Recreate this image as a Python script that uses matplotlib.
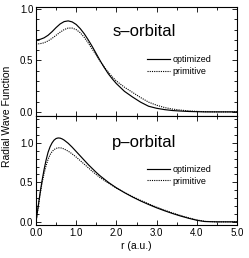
import matplotlib.pyplot as plt
from matplotlib.ticker import MultipleLocator, FormatStrFormatter

plt.rcParams["font.family"] = ["Liberation Sans", "DejaVu Sans"]

# s-orbital radial wave function
r_s = [0.0, 0.1, 0.2, 0.3, 0.4, 0.5, 0.6, 0.7, 0.8, 0.9, 1.0, 1.1, 1.2, 1.3,
       1.4, 1.5, 1.6, 1.7, 1.8, 1.9, 2.0, 2.2, 2.4, 2.6, 2.8, 3.0, 3.2, 3.4,
       3.6, 3.8, 4.0, 4.2, 4.5, 5.0]
s_optimized = [0.700, 0.705, 0.720, 0.745, 0.780, 0.820, 0.855, 0.878, 0.885,
               0.875, 0.850, 0.810, 0.760, 0.700, 0.635, 0.565, 0.495, 0.430,
               0.370, 0.320, 0.275, 0.200, 0.145, 0.095, 0.055, 0.035, 0.022,
               0.013, 0.008, 0.004, 0.002, 0.0, 0.0, 0.0]
s_primitive = [0.660, 0.663, 0.672, 0.690, 0.715, 0.745, 0.775, 0.800, 0.815,
               0.815, 0.800, 0.770, 0.725, 0.670, 0.610, 0.550, 0.490, 0.435,
               0.385, 0.340, 0.300, 0.240, 0.190, 0.140, 0.095, 0.065, 0.042,
               0.027, 0.017, 0.010, 0.005, 0.002, 0.0, 0.0]

# p-orbital radial wave function
r_p = [0.0, 0.05, 0.1, 0.15, 0.2, 0.25, 0.3, 0.35, 0.4, 0.45, 0.5, 0.55, 0.6,
       0.65, 0.7, 0.8, 0.9, 1.0, 1.1, 1.2, 1.3, 1.4, 1.5, 1.6, 1.8, 2.0, 2.2,
       2.4, 2.6, 2.8, 3.0, 3.2, 3.4, 3.6, 3.8, 4.0, 4.2, 4.5, 5.0]
p_optimized = [0.0, 0.18, 0.36, 0.52, 0.66, 0.78, 0.88, 0.95, 1.00, 1.035,
               1.055, 1.062, 1.060, 1.050, 1.035, 0.995, 0.945, 0.890, 0.835,
               0.780, 0.725, 0.675, 0.625, 0.580, 0.500, 0.430, 0.370, 0.315,
               0.265, 0.220, 0.178, 0.140, 0.105, 0.073, 0.045, 0.020, 0.004,
               0.0, 0.0]
p_primitive = [0.0, 0.17, 0.34, 0.49, 0.61, 0.71, 0.79, 0.85, 0.89, 0.915,
               0.930, 0.937, 0.938, 0.932, 0.922, 0.895, 0.860, 0.820, 0.775,
               0.730, 0.685, 0.640, 0.598, 0.558, 0.490, 0.428, 0.372, 0.320,
               0.272, 0.228, 0.186, 0.148, 0.112, 0.080, 0.050, 0.024, 0.006,
               0.0, 0.0]

W, H = 249, 258
fig = plt.figure(figsize=(W / 100, H / 100), dpi=100)

left = 36 / W
width = 201 / W
ax_s = fig.add_axes([left, 1 - 116 / H, width, 109 / H])
ax_p = fig.add_axes([left, 1 - 225 / H, width, 109 / H])

panels = [
    (ax_s, r_s, s_optimized, s_primitive, "s\u2013orbital", (-0.04, 1.02), 0.78, 0.463),
    (ax_p, r_p, p_optimized, p_primitive, "p\u2013orbital", (-0.04, 1.34), 1.0, 0.454),
]

for ax, r, opt, prim, name, ylim, name_y, leg_y in panels:
    ax.plot(r, opt, color="black", lw=0.85, label="optimized")
    ax.plot(r, prim, color="black", lw=0.8, ls=(0, (1, 1)), label="primitive")
    ax.set_xlim(0, 5)
    ax.set_ylim(*ylim)
    ax.xaxis.set_major_locator(MultipleLocator(1))
    ax.xaxis.set_minor_locator(MultipleLocator(0.5))
    ax.yaxis.set_major_locator(MultipleLocator(0.5))
    ax.yaxis.set_minor_locator(MultipleLocator(0.1))
    ax.xaxis.set_major_formatter(FormatStrFormatter("%.1f"))
    ax.yaxis.set_major_formatter(FormatStrFormatter("%.1f"))
    ax.tick_params(which="both", direction="in", top=True, right=True,
                   labelsize=7, width=0.6, pad=2)
    ax.tick_params(which="major", length=3.5)
    ax.tick_params(which="minor", length=2)
    for spine in ax.spines.values():
        spine.set_linewidth(0.8)
    ax.text(1.9, name_y, name, fontsize=12, va="center", ha="left")
    ax.legend(loc="center left", bbox_to_anchor=(0.55, leg_y), frameon=False,
              fontsize=6.5, handlelength=2.6, handletextpad=0.3,
              borderpad=0, borderaxespad=0, labelspacing=0.25)

ax_s.tick_params(labelbottom=False)
ax_p.set_xlabel("r (a.u.)", fontsize=7.5, labelpad=2)
fig.text(0.03, 1 - 116 / H, "Radial Wave Function", rotation=90,
         fontsize=7.5, ha="center", va="center")

fig.savefig("out.png", dpi=100)
